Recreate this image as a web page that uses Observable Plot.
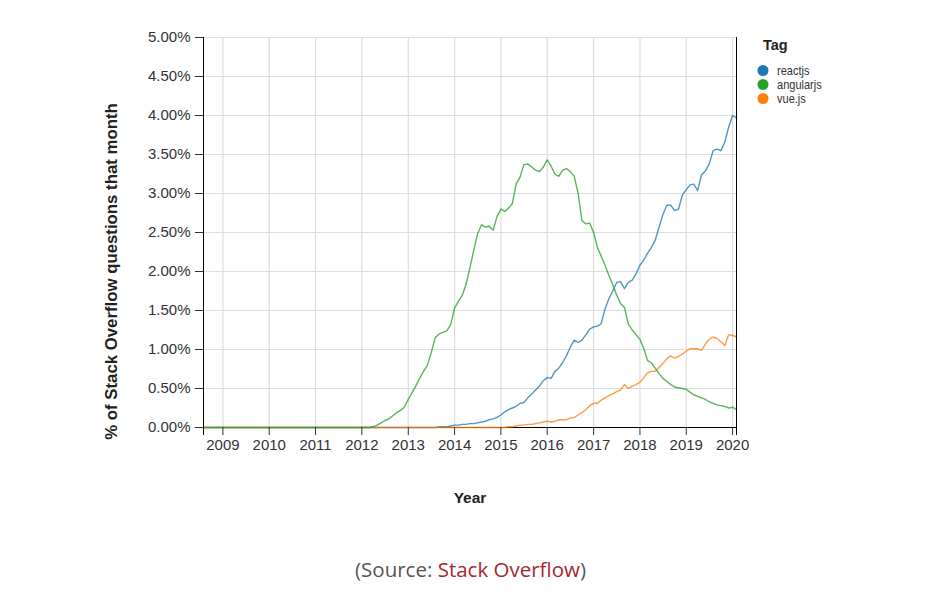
<!DOCTYPE html>
<html>
<head>
<meta charset="utf-8">
<script src="https://cdn.jsdelivr.net/npm/d3@7"></script>
<script src="https://cdn.jsdelivr.net/npm/@observablehq/plot@0.6"></script>
<style>
  body { margin: 0; background: #fff; font-family: "Liberation Sans", Arial, sans-serif; }
  #wrap { position: relative; width: 930px; height: 601px; overflow: hidden; }
  #legend { position: absolute; left: 750px; top: 30px; }
  #caption { position: absolute; left: 0; top: 555px; width: 941px; text-align: center;
    font-family: "Open Sans", sans-serif; font-size: 20.5px; line-height: 28px; color: #555; }
  #caption span { color: #a4282e; }
</style>
</head>
<body>
<div id="wrap">
  <div id="chart"></div>
  <svg id="legend" width="140" height="90"></svg>
  <div id="caption">(Source: <span>Stack Overflow</span>)</div>
</div>
<script>
// ---- data (percent of Stack Overflow questions per month), Aug 2008 .. Feb 2020 ----
const tags = ["reactjs", "angularjs", "vue.js"];
const tagColors = ["#1f77b4", "#2ca02c", "#ff7f0e"];
const firstMonth = "2008-08-01";
const lastMonth = "2020-02-01";

const reactjs = [
  0,0,0,0,0,                                                   // 2008 (Aug-Dec)
  0,0,0,0,0,0,0,0,0,0,0,0,                                     // 2009
  0,0,0,0,0,0,0,0,0,0,0,0,                                     // 2010
  0,0,0,0,0,0,0,0,0,0,0,0,                                     // 2011
  0,0,0,0,0,0,0,0,0,0,0,0,                                     // 2012
  0,0,0,0,0,0,0,0,0.01,0.01,0.01,0.02,                         // 2013
  0.03,0.03,0.04,0.04,0.05,0.05,0.06,0.07,0.08,0.10,0.11,0.13, // 2014
  0.16,0.20,0.23,0.25,0.27,0.31,0.32,0.38,0.43,0.48,0.53,0.60, // 2015
  0.64,0.63,0.72,0.76,0.83,0.92,1.03,1.12,1.09,1.12,1.19,1.26, // 2016
  1.29,1.30,1.33,1.52,1.65,1.75,1.86,1.87,1.78,1.86,1.89,1.97, // 2017
  2.08,2.15,2.23,2.31,2.40,2.57,2.73,2.85,2.85,2.78,2.80,2.98, // 2018
  3.05,3.11,3.12,3.04,3.24,3.29,3.38,3.55,3.57,3.55,3.66,3.85, // 2019
  4.00,3.97                                                    // 2020
];

const angularjs = [
  0,0,0,0,0,
  0,0,0,0,0,0,0,0,0,0,0,0,
  0,0,0,0,0,0,0,0,0,0,0,0,
  0,0,0,0,0,0,0,0,0,0,0,0,
  0,0,0,0.01,0.03,0.06,0.09,0.11,0.15,0.19,0.22,0.26,
  0.36,0.45,0.53,0.63,0.72,0.80,0.96,1.15,1.20,1.22,1.24,1.32,
  1.53,1.62,1.69,1.83,2.04,2.27,2.48,2.60,2.57,2.58,2.53,2.70,
  2.80,2.77,2.81,2.87,3.12,3.21,3.37,3.38,3.34,3.30,3.28,3.34,
  3.43,3.35,3.25,3.22,3.30,3.32,3.28,3.22,3.00,2.65,2.61,2.62,
  2.50,2.30,2.20,2.08,1.95,1.83,1.70,1.59,1.54,1.33,1.25,1.19,
  1.13,1.01,0.86,0.83,0.76,0.69,0.63,0.59,0.55,0.52,0.51,0.50,
  0.49,0.45,0.42,0.40,0.38,0.36,0.33,0.31,0.29,0.28,0.27,0.25,
  0.26,0.23
];

const vuejs = [
  0,0,0,0,0,
  0,0,0,0,0,0,0,0,0,0,0,0,
  0,0,0,0,0,0,0,0,0,0,0,0,
  0,0,0,0,0,0,0,0,0,0,0,0,
  0,0,0,0,0,0,0,0,0,0,0,0,
  0,0,0,0,0,0,0,0,0,0,0,0,
  0,0,0,0,0,0,0,0,0,0,0,0,
  0,0,0.01,0.01,0.02,0.03,0.03,0.04,0.04,0.05,0.06,0.07,
  0.08,0.07,0.08,0.10,0.10,0.10,0.12,0.13,0.16,0.19,0.23,0.28,
  0.31,0.31,0.35,0.38,0.41,0.43,0.46,0.48,0.55,0.50,0.53,0.55,
  0.58,0.64,0.70,0.72,0.72,0.77,0.82,0.88,0.92,0.89,0.91,0.94,
  0.98,1.01,1.01,1.01,0.99,1.07,1.13,1.16,1.14,1.10,1.05,1.19,
  1.18,1.16
];

const yearTicks = [2009,2010,2011,2012,2013,2014,2015,2016,2017,2018,2019,2020];
const pctTicks = [0,0.5,1,1.5,2,2.5,3,3.5,4,4.5,5];
const xTitle = "Year";
const yTitle = "% of Stack Overflow questions that month";
const legendTitle = "Tag";

// ---- build table ----
const months = d3.utcMonth.range(new Date(firstMonth), d3.utcMonth.offset(new Date(lastMonth), 1));
const seriesByTag = {"reactjs": reactjs, "angularjs": angularjs, "vue.js": vuejs};
const drawOrder = ["reactjs", "vue.js", "angularjs"];
const rows = [];
for (const tag of drawOrder) {
  seriesByTag[tag].forEach((v, i) => rows.push({tag, date: months[i], value: v}));
}
const yearDates = yearTicks.map(y => new Date(Date.UTC(y, 0, 1)));
const xExtent = [months[0], months[months.length - 1]];

const chart = Plot.plot({
  width: 930,
  height: 554,
  marginLeft: 203,
  marginRight: 194,
  marginTop: 37,
  marginBottom: 127,
  style: {fontFamily: "'Liberation Sans', Arial, sans-serif", fontSize: "15px", color: "#333", background: "#fff"},
  x: {type: "utc", domain: xExtent},
  y: {domain: [0, 5]},
  color: {domain: tags, range: tagColors},
  marks: [
    Plot.gridX(yearDates, {stroke: "#ddd", strokeOpacity: 1, strokeWidth: 1.2}),
    Plot.gridY(pctTicks, {stroke: "#ddd", strokeOpacity: 1, strokeWidth: 1.2}),
    Plot.ruleY([0], {stroke: "#000"}),
    Plot.line(rows, {x: "date", y: "value", z: "tag", stroke: "tag", strokeWidth: 1.4, strokeOpacity: 0.78}),
    Plot.ruleX(xExtent, {stroke: "#000", insetBottom: -8}),
    Plot.axisX(yearDates, {tickFormat: "%Y", tickSize: 8, tickPadding: 4, label: null, stroke: "#333", fill: "#333"}),
    Plot.axisY(pctTicks, {tickFormat: d => d.toFixed(2) + "%", tickSize: 8, tickPadding: 5, label: null, stroke: "#333", fill: "#333"}),
    Plot.text([xTitle], {text: d => d, frameAnchor: "bottom", dy: 75, fontWeight: "bold", fontSize: 15.5, fill: "#222"}),
    Plot.text([yTitle], {text: d => d, y: () => 2, frameAnchor: "left", rotate: -90, dx: -92, fontWeight: "bold", fontSize: 16.8, fill: "#222", textAnchor: "middle"})
  ]
});
document.getElementById("chart").appendChild(chart);

// ---- legend ----
const lg = d3.select("#legend");
lg.append("text").attr("x", 13).attr("y", 19.5).attr("font-weight", "bold").attr("font-size", 14.5)
  .attr("fill", "#222").attr("font-family", "'Liberation Sans', Arial, sans-serif").text(legendTitle);
tags.forEach((t, i) => {
  const cy = 40.5 + i * 14;
  lg.append("circle").attr("cx", 13).attr("cy", cy).attr("r", 5.5).attr("fill", tagColors[i]);
  lg.append("text").attr("transform", `translate(27,${cy + 4}) scale(0.92,1)`)
    .attr("font-size", 12).attr("fill", "#333").attr("font-family", "'Liberation Sans', Arial, sans-serif").text(t);
});
</script>
</body>
</html>
